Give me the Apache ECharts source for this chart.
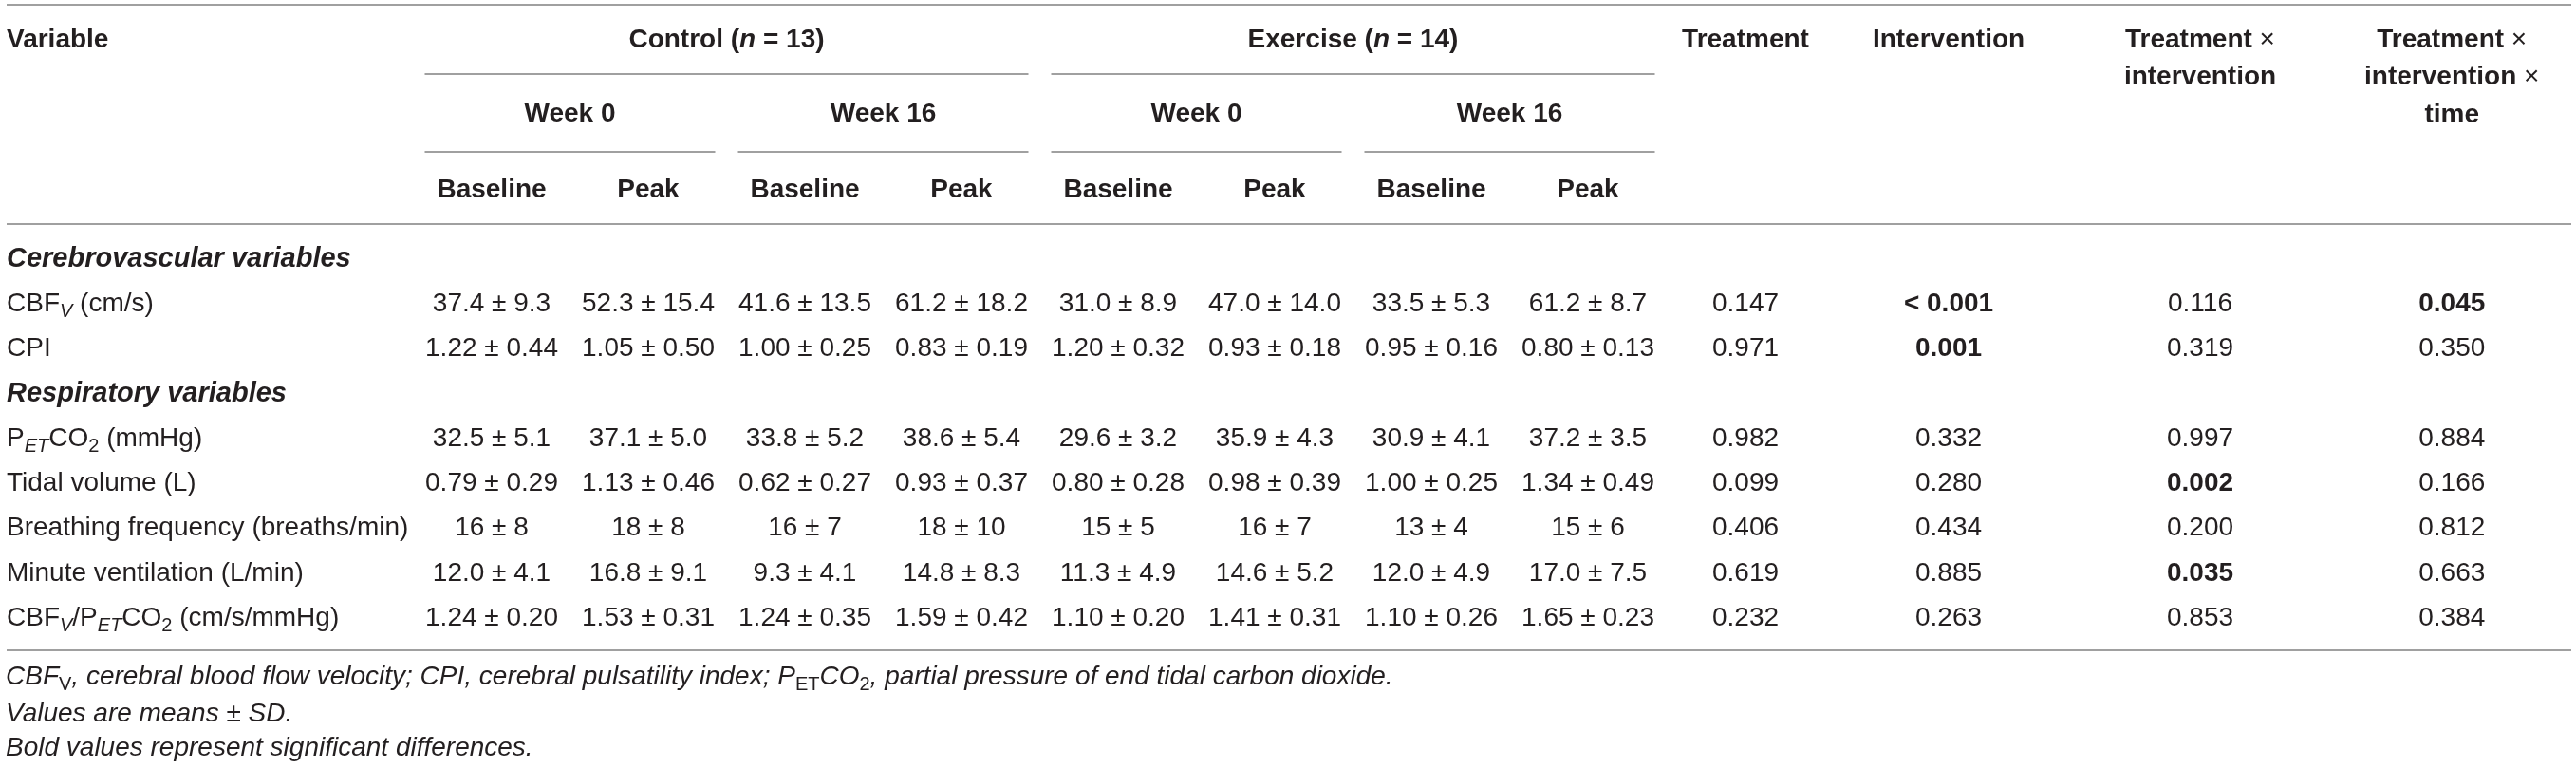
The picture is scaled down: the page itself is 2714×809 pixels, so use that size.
<!DOCTYPE html>
<html>
<head>
<meta charset="utf-8">
<title>Table</title>
<script src="https://cdn.jsdelivr.net/npm/echarts@6/dist/echarts.min.js"></script>
<style>
html, body { margin: 0; padding: 0; background: #fff; }
#chart { width: 2714px; height: 809px; }
</style>
</head>
<body>
<div id="chart"></div>
<script>
// ---- 表头文字 ----
var groups = ['Control ({ni|n} = 13)', 'Exercise ({ni|n} = 14)'];
var weeks = ['Week 0', 'Week 16'];
var phases = ['Baseline', 'Peak'];
var effects = ['Treatment', 'Intervention', 'Treatment {x|×}\nintervention', 'Treatment {x|×}\nintervention {x|×}\ntime'];

// ---- 行 ----
var bodyRows = [
	'Cerebrovascular variables',
	'CBF{subi|V} (cm/s)',
	'CPI',
	'Respiratory variables',
	'P{subi|ET}CO{sub|2} (mmHg)',
	'Tidal volume (L)',
	'Breathing frequency (breaths/min)',
	'Minute ventilation (L/min)',
	'CBF{subi|V}/P{subi|ET}CO{sub|2} (cm/s/mmHg)'
];
var sectionRows = [0, 3];

// ---- 均值 / 标准差 (Control W0 基线,峰值, W16 基线,峰值, Exercise 同上) ----
var cbfvMean = [37.4, 52.3, 41.6, 61.2, 31.0, 47.0, 33.5, 61.2];
var cbfvSd = [9.3, 15.4, 13.5, 18.2, 8.9, 14.0, 5.3, 8.7];
var cpiMean = [1.22, 1.05, 1.00, 0.83, 1.20, 0.93, 0.95, 0.80];
var cpiSd = [0.44, 0.50, 0.25, 0.19, 0.32, 0.18, 0.16, 0.13];
var petco2Mean = [32.5, 37.1, 33.8, 38.6, 29.6, 35.9, 30.9, 37.2];
var petco2Sd = [5.1, 5.0, 5.2, 5.4, 3.2, 4.3, 4.1, 3.5];
var tidalMean = [0.79, 1.13, 0.62, 0.93, 0.80, 0.98, 1.00, 1.34];
var tidalSd = [0.29, 0.46, 0.27, 0.37, 0.28, 0.39, 0.25, 0.49];
var breathMean = [16, 18, 16, 18, 15, 16, 13, 15];
var breathSd = [8, 8, 7, 10, 5, 7, 4, 6];
var minuteMean = [12.0, 16.8, 9.3, 14.8, 11.3, 14.6, 12.0, 17.0];
var minuteSd = [4.1, 9.1, 4.1, 8.3, 4.9, 5.2, 4.9, 7.5];
var ratioMean = [1.24, 1.53, 1.24, 1.59, 1.10, 1.41, 1.10, 1.65];
var ratioSd = [0.20, 0.31, 0.35, 0.42, 0.20, 0.31, 0.26, 0.23];
var decimals = [1, 2, 1, 2, 0, 1, 2];

// ---- P 值 ----
var pTreatment = ['0.147', '0.971', '0.982', '0.099', '0.406', '0.619', '0.232'];
var pIntervention = ['< 0.001', '0.001', '0.332', '0.280', '0.434', '0.885', '0.263'];
var pTreatInt = ['0.116', '0.319', '0.997', '0.002', '0.200', '0.035', '0.853'];
var pTreatIntTime = ['0.045', '0.350', '0.884', '0.166', '0.812', '0.663', '0.384'];

// ---- 脚注 ----
var footnotes = [
	'CBF{sub|V}, cerebral blood flow velocity; CPI, cerebral pulsatility index; P{sub|ET}CO{sub|2}, partial pressure of end tidal carbon dioxide.',
	'Values are means ± SD.',
	'Bold values represent significant differences.'
];

// ---- 版式 ----
var colWidths = [435.5, 165, 165, 165, 165, 165, 165, 165, 165, 167, 261, 269, 261.5];
var headerY = [42, 120, 200]; //表头三行中心
var headerLine = 39.5;
var ruleY = { top: 5, group: 78, week: 160, head: 236, bottom: 685 };
var footY = [713, 752, 788];
var bodyTop = 249.5, rowPitch = 47.25;
var padLeft = 7, ruleLeft = 7, ruleRight = 2709, ruleInset = 12;

var textColor = '#231f20';
var ruleColor = '#a0a0a0';
var bodyFamily = '"Liberation Sans", Arial, sans-serif';
var headFamily = '"Liberation Sans", Arial, sans-serif';

var colEdges = [0];
for (var i = 0; i < colWidths.length; i++) colEdges.push(colEdges[i] + colWidths[i]);
function colCenter(i) { return (colEdges[i] + colEdges[i + 1]) / 2; }
function spanCenter(a, b) { return (colEdges[a] + colEdges[b]) / 2; }

function font(size, weight, style, family, extra) {
	var o = { fontSize: size, fontWeight: weight, fontStyle: style, fontFamily: family, fill: textColor };
	for (var k in extra) o[k] = extra[k];
	return o;
}
var subBottom = { verticalAlign: 'bottom', lineHeight: 21 };
var bodyRich = {
	sub: font(20, 'normal', 'normal', bodyFamily, subBottom),
	subi: font(20, 'normal', 'italic', bodyFamily, subBottom)
};
var headRich = {
	ni: font(28, 'bold', 'italic', headFamily),
	x: font(28, 'normal', 'normal', headFamily)
};
var footRich = {
	sub: font(20, 'normal', 'normal', bodyFamily, subBottom)
};
var styles = {
	label: font(28, 'normal', 'normal', bodyFamily, { lineHeight: 36, rich: bodyRich }),
	value: font(28, 'normal', 'normal', bodyFamily, { lineHeight: 36 }),
	sig: font(28, 'bold', 'normal', headFamily, { lineHeight: 36 }),
	section: font(29, 'bold', 'italic', headFamily, { lineHeight: 36 })
};

function isSig(p) { return parseFloat(p.replace('<', '')) < 0.05; }

//构建单元格
var meanArrs = [cbfvMean, cpiMean, petco2Mean, tidalMean, breathMean, minuteMean, ratioMean];
var sdArrs = [cbfvSd, cpiSd, petco2Sd, tidalSd, breathSd, minuteSd, ratioSd];
var pCols = [pTreatment, pIntervention, pTreatInt, pTreatIntTime];
var cells = [];
var v = 0;
bodyRows.forEach(function(label, r) {
	if (sectionRows.indexOf(r) >= 0) {
		cells.push({ value: [padLeft, r], text: label, kind: 'section', align: 'left' });
		return;
	}
	cells.push({ value: [padLeft, r], text: label, kind: 'label', align: 'left' });
	for (var c = 0; c < 8; c++) {
		var d = decimals[v];
		cells.push({
			value: [colCenter(c + 1), r],
			text: meanArrs[v][c].toFixed(d) + ' ± ' + sdArrs[v][c].toFixed(d),
			kind: 'value', align: 'center'
		});
	}
	for (var k = 0; k < pCols.length; k++) {
		var p = pCols[k][v];
		cells.push({ value: [colCenter(9 + k), r], text: p, kind: isSig(p) ? 'sig' : 'value', align: 'center' });
	}
	v++;
});

function renderCell(params, api) {
	var cell = cells[params.dataIndex];
	var pt = api.coord([api.value(0), api.value(1)]);
	var st = {};
	var base = styles[cell.kind];
	for (var key in base) st[key] = base[key];
	st.text = cell.text;
	st.align = cell.align;
	st.verticalAlign = 'middle';
	return { type: 'text', x: pt[0], y: pt[1], style: st };
}

//表头与横线
var graphics = [];
function rule(x1, x2, y) {
	graphics.push({ type: 'line', silent: true, shape: { x1: x1, y1: y, x2: x2, y2: y }, style: { stroke: ruleColor, lineWidth: 2 } });
}
function headText(text, x, y, align, vAlign) {
	graphics.push({
		type: 'text', silent: true, x: x, y: y,
		style: font(28, 'bold', 'normal', headFamily, {
			text: text, rich: headRich, align: align, verticalAlign: vAlign || 'middle', lineHeight: headerLine
		})
	});
}
rule(ruleLeft, ruleRight, ruleY.top);
rule(ruleLeft, ruleRight, ruleY.head);
rule(ruleLeft, ruleRight, ruleY.bottom);
headText('Variable', padLeft, headerY[0], 'left');
groups.forEach(function(g, gi) {
	var a = 1 + gi * 4;
	headText(g, spanCenter(a, a + 4), headerY[0], 'center');
	rule(colEdges[a] + ruleInset, colEdges[a + 4] - ruleInset, ruleY.group);
	weeks.forEach(function(w, wi) {
		var b = a + wi * 2;
		headText(w, spanCenter(b, b + 2), headerY[1], 'center');
		rule(colEdges[b] + ruleInset, colEdges[b + 2] - ruleInset, ruleY.week);
		phases.forEach(function(ph, pi) {
			headText(ph, colCenter(b + pi), headerY[2], 'center');
		});
	});
});
effects.forEach(function(e, ei) {
	headText(e, colCenter(9 + ei), headerY[0] - headerLine / 2, 'center', 'top');
});
footnotes.forEach(function(f, fi) {
	graphics.push({
		type: 'text', silent: true, x: padLeft - 1, y: footY[fi],
		style: font(28, 'normal', 'italic', bodyFamily, { text: f, rich: footRich, align: 'left', verticalAlign: 'middle', lineHeight: 36 })
	});
});

var myChart = echarts.init(document.getElementById('chart'));
myChart.setOption({
	backgroundColor: '#ffffff',
	animation: false,
	grid: { left: 0, right: 0, top: bodyTop, height: rowPitch * bodyRows.length },
	xAxis: { type: 'value', min: 0, max: colEdges[colEdges.length - 1], show: false },
	yAxis: { type: 'category', data: bodyRows, inverse: true, show: false },
	series: [{
		type: 'custom',
		renderItem: renderCell,
		data: cells,
		clip: false,
		silent: true
	}],
	graphic: { elements: graphics }
});
</script>
</body>
</html>
